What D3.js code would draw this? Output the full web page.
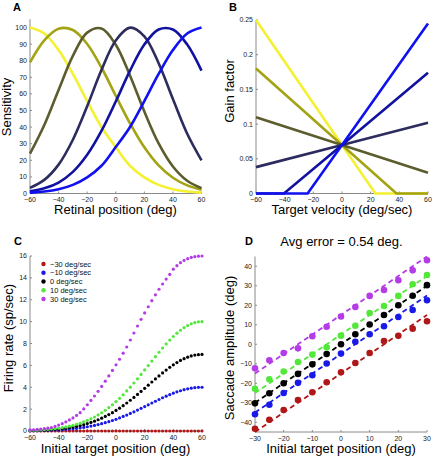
<!DOCTYPE html>
<html><head><meta charset="utf-8">
<script src="https://cdn.jsdelivr.net/npm/d3@7"></script>
<style>body{margin:0;background:#fff}svg{display:block}text{font-family:"Liberation Sans",Arial,sans-serif}</style>
</head><body><svg id="c" width="432" height="456"></svg>
<script>
// ---------- Panel A data ----------
const posA = [-60,-50,-40,-30,-20,-10,0,10,20,30,40,50,60];
const sensYellow   = [100,96.4,86.4,72.0,55.7,40.1,28.0,16.7,9.7,5.2,2.6,1.2,0.5];
const sensOlive    = [79.0,92.3,99.3,98.5,90.1,75.9,58.9,42.2,27.8,16.9,9.5,4.9,2.3];
const sensDarkOlive= [24.0,41.3,62.4,82.9,96.9,99.4,89.6,71.0,49.4,30.2,16.3,7.7,3.2];
const sensDarkNavy = [3.4,8.2,17.4,32.4,52.5,74.4,92.2,99.9,94.7,78.5,56.9,36.0,20.0];
const sensNavy     = [1.3,3.1,6.6,13.0,23.3,37.7,55.4,74.0,89.7,98.8,98.8,89.7,74.0];
const sensBlue     = [0.5,1.2,2.6,5.2,9.7,16.7,28.0,40.1,55.7,72.0,86.4,96.4,100];
const ticksA_x = [-60,-40,-20,0,20,40,60];
const ticksA_y = [0,10,20,30,40,50,60,70,80,90,100];

// ---------- Panel B data (velocity breakpoints, gain) ----------
const velYellow = [-60,0,23.3,60],   gainYellow = [0.25,0.07,0,0];
const velOlive  = [-60,0,38,60],     gainOlive  = [0.18,0.07,0,0];
const velDarkOlive = [-60,0,60],     gainDarkOlive = [0.11,0.07,0.03];
const velDarkNavy  = [-60,0,60],     gainDarkNavy  = [0.038,0.07,0.102];
const velNavy   = [-60,-40.5,0,60],  gainNavy   = [0,0,0.07,0.174];
const velBlue   = [-60,-24,0,60],    gainBlue   = [0,0,0.07,0.245];
const ticksB_x = [-60,-40,-20,0,20,40,60];
const ticksB_y = [0,0.05,0.1,0.15,0.2,0.25];

// ---------- Panel C data ----------
const posC = d3.range(-60, 60.01, 2.5);
const rateM30 = [0,0,0,0,0,0,0,0,0,0,0,0,0,0,0,0,0,0,0,0,0,0,0,0,0,0,0,0,0,0,0,0,0,0,0,0,0,0,0,0,0,0,0,0,0,0,0,0,0];
const rateM10 = [0.02,0.03,0.03,0.04,0.05,0.06,0.07,0.09,0.1,0.12,0.15,0.18,0.21,0.24,0.29,0.33,0.39,0.45,0.51,0.59,0.67,0.76,0.85,0.96,1.07,1.2,1.33,1.46,1.61,1.75,1.91,2.07,2.23,2.39,2.56,2.72,2.88,3.04,3.18,3.32,3.46,3.58,3.68,3.78,3.86,3.92,3.96,3.99,4];
const rate0   = [0.04,0.05,0.06,0.07,0.08,0.1,0.12,0.15,0.18,0.22,0.26,0.31,0.36,0.43,0.5,0.58,0.68,0.78,0.9,1.03,1.17,1.33,1.5,1.68,1.88,2.09,2.32,2.56,2.81,3.07,3.34,3.62,3.9,4.19,4.48,4.76,5.04,5.31,5.57,5.82,6.05,6.26,6.45,6.61,6.75,6.86,6.94,6.98,7];
const rateP10 = [0.05,0.07,0.08,0.1,0.12,0.15,0.18,0.22,0.26,0.31,0.37,0.44,0.52,0.61,0.71,0.83,0.97,1.12,1.28,1.47,1.67,1.89,2.14,2.4,2.69,2.99,3.31,3.66,4.01,4.39,4.77,5.17,5.58,5.98,6.39,6.8,7.2,7.59,7.96,8.31,8.64,8.94,9.21,9.45,9.64,9.8,9.91,9.98,10];
const rateP30 = [0.1,0.11,0.14,0.18,0.21,0.26,0.32,0.42,0.54,0.67,0.83,1.01,1.2,1.42,1.68,2.02,2.4,2.8,3.2,3.63,4.08,4.56,5.04,5.54,6.05,6.56,7.12,7.68,8.32,8.96,9.6,10.21,10.8,11.36,11.92,12.45,12.96,13.44,13.89,14.32,14.8,15.12,15.39,15.6,15.76,15.87,15.94,15.98,16];
const legendC = ["\u221230 deg/sec","\u221210 deg/sec","0 deg/sec","10 deg/sec","30 deg/sec"];
const ticksC_x = [-60,-40,-20,0,20,40,60];
const ticksC_y = [0,2,4,6,8,10,12,14,16];

// ---------- Panel D data ----------
const posD = [-30,-25,-20,-15,-10,-5,0,5,10,15,20,25,30];
const ampM30 = [-43.3,-38.7,-33.7,-28.6,-24.6,-19.5,-14.4,-9.6,-4.5,1.7,4.3,8.0,11.8];
const ampM10 = [-35.9,-31.0,-25.0,-19.8,-15.9,-9.9,-4.8,1.3,5.1,9.2,14.0,17.6,22.6];
const amp0   = [-30.3,-25.1,-20.0,-15.2,-10.3,-5.0,0,5.1,10.1,15.0,20.0,24.9,30.3];
const ampP10 = [-22.8,-18.0,-14.0,-9.1,-5.3,-1.6,4.4,9.5,16.0,19.6,24.8,30.8,35.5];
const ampP30 = [-12.3,-8.2,-4.5,-2.1,4.1,9.0,14.2,19.1,24.8,27.8,32.8,37.9,43.1];
const dashX = [-30,30];
const dashM30 = [-45,15], dashM10 = [-35,25], dash0 = [-30,30], dashP10 = [-25,35], dashP30 = [-15,45];
const ticksD_x = [-30,-20,-10,0,10,20,30];
const ticksD_y = [-40,-30,-20,-10,0,10,20,30,40];
const titleD = "Avg error = 0.54 deg.";

// ---------- styling ----------
const colAB = ["#f4f032","#a3a314","#5c5c2e","#2c2c5e","#1212a0","#1010f0"];
const colCD = ["#b01818","#1a1ae8","#000000","#52e83a","#b43ce8"];
const axisCol = "#8a8a8a", labCol = "#222";
const svg = d3.select("#c");
const fmt = v => (v<0 ? "\u2212"+Math.abs(v) : String(v));

function axes(x, y, xt, yt, yfmt){
  const g = svg.append("g");
  const [x0,x1] = x.range(), [y0,y1] = y.range();
  g.append("line").attr("x1",x0).attr("x2",x1).attr("y1",y0).attr("y2",y0).attr("stroke",axisCol).attr("stroke-width",1);
  g.append("line").attr("x1",x0).attr("x2",x0).attr("y1",y0).attr("y2",y1).attr("stroke",axisCol).attr("stroke-width",1);
  xt.forEach(t=>{
    g.append("line").attr("x1",x(t)).attr("x2",x(t)).attr("y1",y0).attr("y2",y0-2).attr("stroke",axisCol);
    g.append("text").attr("x",x(t)).attr("y",y0+8.5).attr("text-anchor","middle").attr("font-size",7).attr("fill",labCol).text(fmt(t));
  });
  yt.forEach(t=>{
    g.append("line").attr("x1",x0).attr("x2",x0+2).attr("y1",y(t)).attr("y2",y(t)).attr("stroke",axisCol);
    g.append("text").attr("x",x0-3).attr("y",y(t)).attr("dy","0.35em").attr("text-anchor","end").attr("font-size",7).attr("fill",labCol).text(yfmt?yfmt(t):fmt(t));
  });
}
function label(x,y,txt,rot){
  const t = svg.append("text").attr("font-size",13).attr("fill","#000").attr("text-anchor","middle").text(txt);
  if(rot) t.attr("transform",`translate(${x},${y}) rotate(-90)`); else t.attr("x",x).attr("y",y);
}
function letter(x,y,txt){ svg.append("text").attr("x",x).attr("y",y).attr("font-size",11).attr("font-weight","bold").text(txt); }

// ---------- Panel A ----------
{
  const x = d3.scaleLinear().domain([-60,60]).range([30,201.5]);
  const y = d3.scaleLinear().domain([0,105]).range([193.5,19.2]);
  axes(x,y,ticksA_x,ticksA_y);
  const line = d3.line().x((d,i)=>x(posA[i])).y(d=>y(d)).curve(d3.curveCatmullRom.alpha(0.5));
  [sensYellow,sensOlive,sensDarkOlive,sensDarkNavy,sensNavy,sensBlue].forEach((s,k)=>{
    svg.append("path").attr("d",line(s)).attr("fill","none").attr("stroke",colAB[k]).attr("stroke-width",2.6);
  });
  letter(13,10.5,"A");
  label(115.5,214,"Retinal position (deg)");
  label(10.5,107,"Sensitivity",true);
}
// ---------- Panel B ----------
{
  const x = d3.scaleLinear().domain([-60,60]).range([256,428]);
  const y = d3.scaleLinear().domain([0,0.25]).range([193.5,20]);
  axes(x,y,ticksB_x,ticksB_y, t=>String(t));
  const series = [[velYellow,gainYellow],[velOlive,gainOlive],[velDarkOlive,gainDarkOlive],[velDarkNavy,gainDarkNavy],[velNavy,gainNavy],[velBlue,gainBlue]];
  series.forEach(([vx,gy],k)=>{
    const line = d3.line().x((d,i)=>x(vx[i])).y(d=>y(d));
    svg.append("path").attr("d",line(gy)).attr("fill","none").attr("stroke",colAB[k]).attr("stroke-width",2.6);
  });
  letter(229,10.5,"B");
  label(342,214,"Target velocity (deg/sec)");
  label(234,91,"Gain factor",true);
}
// ---------- Panel C ----------
{
  const x = d3.scaleLinear().domain([-60,60]).range([30,202]);
  const y = d3.scaleLinear().domain([0,16]).range([431,256]);
  axes(x,y,ticksC_x,ticksC_y);
  [rateM30,rateM10,rate0,rateP10,rateP30].forEach((s,k)=>{
    svg.append("g").selectAll("circle").data(s).join("circle")
      .attr("cx",(d,i)=>x(posC[i])).attr("cy",d=>y(d)).attr("r",1.6).attr("fill",colCD[k]);
  });
  legendC.forEach((t,k)=>{
    const yy = 264 + k*8.75;
    svg.append("circle").attr("cx",43.5).attr("cy",yy).attr("r",2.2).attr("fill",colCD[k]);
    svg.append("text").attr("x",50).attr("y",yy).attr("dy","0.35em").attr("font-size",7.5).attr("fill","#111").text(t);
  });
  letter(14,245,"C");
  label(115.5,452.5,"Initial target position (deg)");
  label(13,338,"Firing rate (sp/sec)",true);
}
// ---------- Panel D ----------
{
  const x = d3.scaleLinear().domain([-30,30]).range([255,427]);
  const y = d3.scaleLinear().domain([-45,45]).range([432,256.5]);
  axes(x,y,ticksD_x,ticksD_y);
  const dashes = [dashM30,dashM10,dash0,dashP10,dashP30];
  const amps = [ampM30,ampM10,amp0,ampP10,ampP30];
  dashes.forEach((s,k)=>{
    const line = d3.line().x((d,i)=>x(dashX[i])).y(d=>y(d));
    svg.append("path").attr("d",line(s)).attr("fill","none").attr("stroke",colCD[k]).attr("stroke-width",1.8).attr("stroke-dasharray","5,3.5");
  });
  amps.forEach((s,k)=>{
    svg.append("g").selectAll("circle").data(s).join("circle")
      .attr("cx",(d,i)=>x(posD[i])).attr("cy",d=>y(d)).attr("r",3.3).attr("fill",colCD[k]);
  });
  letter(245,245,"D");
  label(341.5,246,titleD);
  label(341,452.5,"Initial target position (deg)");
  label(234,348,"Saccade amplitude (deg)",true);
}
</script></body></html>
